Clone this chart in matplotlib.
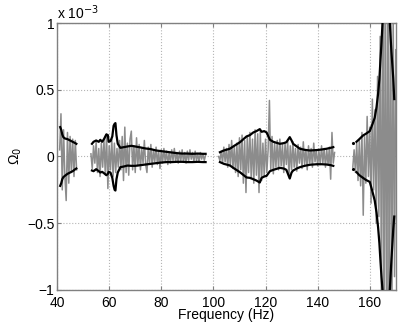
import numpy as np
import matplotlib
matplotlib.use("Agg")
import matplotlib.pyplot as plt

plt.rcParams['font.family'] = ['Liberation Sans', 'DejaVu Sans']

# ============== data (values in units of 1e-3)
# black envelope, piecewise segments: (freq, upper, lower)
env_f1 = [41.2, 41.6, 42.0, 42.4, 43.0, 44.0, 45.0, 46.0, 47.0, 47.4]
env_u1 = [0.22, 0.20, 0.165, 0.145, 0.135, 0.13, 0.12, 0.11, 0.10, 0.095]
env_l1 = [-0.22, -0.20, -0.17, -0.155, -0.145, -0.13, -0.12, -0.11, -0.095, -0.09]

env_f2 = [53.4, 54, 55, 56, 56.6, 57.3, 58, 58.9, 59.5, 59.8, 60.5, 61.2, 61.7, 62.1,
          62.4, 62.8, 63.3, 64.3, 65.6, 67, 68.5, 70, 72, 74, 76, 78, 80, 82, 84, 86,
          88, 90, 92, 94, 96, 97]
env_u2 = [0.095, 0.11, 0.12, 0.11, 0.125, 0.11, 0.13, 0.165, 0.16, 0.11, 0.115, 0.15,
          0.23, 0.245, 0.25, 0.16, 0.095, 0.065, 0.07, 0.075, 0.08, 0.075, 0.068, 0.06,
          0.055, 0.045, 0.04, 0.035, 0.03, 0.025, 0.022, 0.022, 0.02, 0.022, 0.02, 0.02]
env_l2 = [-0.105, -0.11, -0.095, -0.11, -0.12, -0.115, -0.125, -0.14, -0.13, -0.115,
          -0.12, -0.16, -0.22, -0.25, -0.255, -0.17, -0.12, -0.08, -0.075, -0.068, -0.07,
          -0.07, -0.065, -0.06, -0.055, -0.05, -0.045, -0.042, -0.042, -0.04, -0.04,
          -0.042, -0.042, -0.04, -0.042, -0.042]

env_f3 = [102.5, 104, 106.3, 108, 110.2, 112.7, 114, 115.3, 116.5, 117.8, 118.5, 119.5,
          120.4, 121.7, 123, 125.5, 127, 128, 129.3, 130, 130.6, 132, 133.2, 135, 137,
          139.6, 141.5, 143.4, 145, 146]
env_u3 = [0.032, 0.045, 0.058, 0.08, 0.107, 0.15, 0.16, 0.18, 0.19, 0.205, 0.185, 0.19,
          0.18, 0.125, 0.11, 0.095, 0.1, 0.107, 0.145, 0.12, 0.095, 0.075, 0.058, 0.05,
          0.045, 0.048, 0.052, 0.058, 0.065, 0.07]
env_l3 = [-0.042, -0.055, -0.067, -0.09, -0.118, -0.157, -0.16, -0.17, -0.18, -0.195,
          -0.16, -0.15, -0.145, -0.11, -0.1, -0.085, -0.09, -0.1, -0.165, -0.12, -0.105,
          -0.09, -0.08, -0.07, -0.062, -0.058, -0.058, -0.06, -0.065, -0.07]

env_f4 = [154.9, 156, 157.4, 158.5, 160, 161, 161.9, 162.6, 163.2, 163.7, 164.1, 164.5,
          164.9, 165.1]
env_u4 = [0.11, 0.13, 0.157, 0.17, 0.19, 0.24, 0.29, 0.37, 0.47, 0.58, 0.72, 0.85, 1.0, 1.1]
env_l4 = [-0.117, -0.14, -0.16, -0.175, -0.19, -0.26, -0.33, -0.42, -0.53, -0.65, -0.78,
          -0.9, -1.0, -1.1]

env_f5 = [167.5, 167.7, 168.3, 169.0, 169.4]
env_u5 = [1.1, 1.0, 0.79, 0.59, 0.43]
env_l5 = [-1.1, -1.0, -0.78, -0.55, -0.45]

dot_f = [153.4, 153.4]
dot_v = [0.10, -0.092]

# grey signal, sampled every 0.5 Hz from the segment start
sig_start1 = 41.0
sig1 = [0.05, 0.32, -0.25, 0.2, -0.15, -0.33, 0.18, -0.2, 0.15, -0.12, 0.13, -0.15,
        0.12, -0.1]

sig_start2 = 53.0
sig2 = [0.02, -0.09, 0.08, -0.05, 0.11, -0.12, 0.06, -0.15, 0.1, -0.08, 0.12, -0.13,
        0.17, -0.24, 0.08, -0.1, 0.13, -0.15, 0.1, -0.12, 0.06, -0.08, 0.12, -0.1,
        0.15, -0.18, 0.22, -0.12, 0.1, -0.14, 0.13, 0.19, -0.1, 0.08, -0.12, 0.14,
        -0.07, 0.09, -0.1, 0.06, -0.05, 0.12, -0.06, -0.12, 0.07, -0.05, 0.09, -0.08,
        0.05, -0.04, 0.07, -0.06, 0.04, -0.09, 0.05, -0.05, 0.06, -0.04, 0.04, -0.06,
        0.03, -0.05, 0.05, -0.03, 0.06, -0.04, 0.03, -0.05, 0.04, -0.03, 0.05, -0.04,
        0.03, -0.05, 0.04, -0.03, 0.05, -0.02, 0.03, -0.04, 0.04, -0.03, 0.02, -0.04,
        0.03, -0.02, 0.02, -0.03, 0.01]

sig_start3 = 102.0
sig3 = [0.0, -0.03, 0.04, -0.05, 0.07, -0.04, 0.06, -0.08, 0.09, -0.07, 0.12, -0.09,
        0.07, -0.12, 0.1, -0.15, 0.14, -0.1, 0.16, -0.2, 0.12, -0.27, 0.15, -0.12,
        0.18, -0.16, 0.13, -0.2, 0.2, -0.14, 0.17, -0.27, 0.19, -0.18, 0.1, -0.15,
        0.13, -0.12, 0.05, 0.42, -0.1, 0.15, -0.13, 0.1, -0.08, 0.12, -0.1, 0.13,
        -0.07, 0.09, -0.12, 0.1, -0.06, 0.12, -0.15, 0.08, -0.1, 0.11, -0.08, 0.06,
        -0.11, 0.09, -0.05, 0.07, -0.09, 0.11, -0.06, 0.05, -0.1, 0.08, -0.05, 0.06,
        -0.08, 0.1, -0.04, 0.05, -0.07, 0.04, -0.06, 0.08, -0.05, 0.06, -0.08, 0.05,
        -0.06, 0.07, -0.17, 0.18, -0.05, 0.03]

sig_start4 = 153.5
sig4 = [-0.08, 0.05, -0.12, 0.1, -0.18, 0.12, -0.22, 0.18, -0.44, 0.15, -0.2, 0.3,
        -0.15, 0.22, -0.35, 0.43, -0.25, 0.35, -0.5, 0.6, -0.45, 0.9, -1.2, 1.5, -1.5,
        1.6, -1.6, 1.5, -1.4, 1.3, -1.2, 1.1, -0.9, 0.8]

fig = plt.figure(figsize=(3.99, 3.24), dpi=100)
ax = fig.add_axes([0.143, 0.105, 0.849, 0.824])

grey = '#8c8c8c'
for start, sig in [(sig_start1, sig1), (sig_start2, sig2), (sig_start3, sig3), (sig_start4, sig4)]:
    f = start + 0.5 * np.arange(len(sig))
    ax.plot(f, sig, color=grey, lw=1.1, zorder=2)

for f, u, l in [(env_f1, env_u1, env_l1), (env_f2, env_u2, env_l2), (env_f3, env_u3, env_l3),
                (env_f4, env_u4, env_l4), (env_f5, env_u5, env_l5)]:
    ax.plot(f, u, color='k', lw=1.6, zorder=3)
    ax.plot(f, l, color='k', lw=1.6, zorder=3)
ax.plot(dot_f, dot_v, 'k.', ms=2.5, zorder=3)

ax.set_xlim(40, 170)
ax.set_ylim(-1, 1)
ax.set_xticks([40, 60, 80, 100, 120, 140, 160])
ax.set_yticks([-1, -0.5, 0, 0.5, 1])
ax.set_yticklabels(['\u22121', '\u22120.5', '0', '0.5', '1'])
ax.grid(True, linestyle=':', color='#b5b5b5', lw=0.8)
ax.tick_params(direction='in', length=3, labelsize=10, top=True, right=True, color='#808080')
ax.tick_params(axis='x', pad=4)
ax.tick_params(axis='y', pad=2)
for s in ax.spines.values():
    s.set_color('#808080')
    s.set_linewidth(1.0)

ax.text(0.0, 1.003, 'x 10$^{-3}$', transform=ax.transAxes, ha='left', va='bottom', fontsize=10)
ax.set_xlabel('Frequency (Hz)', fontsize=10, labelpad=-1)
ax.set_ylabel('\u03a9$_0$', fontsize=10, labelpad=2)

fig.savefig('out.png', dpi=100)
